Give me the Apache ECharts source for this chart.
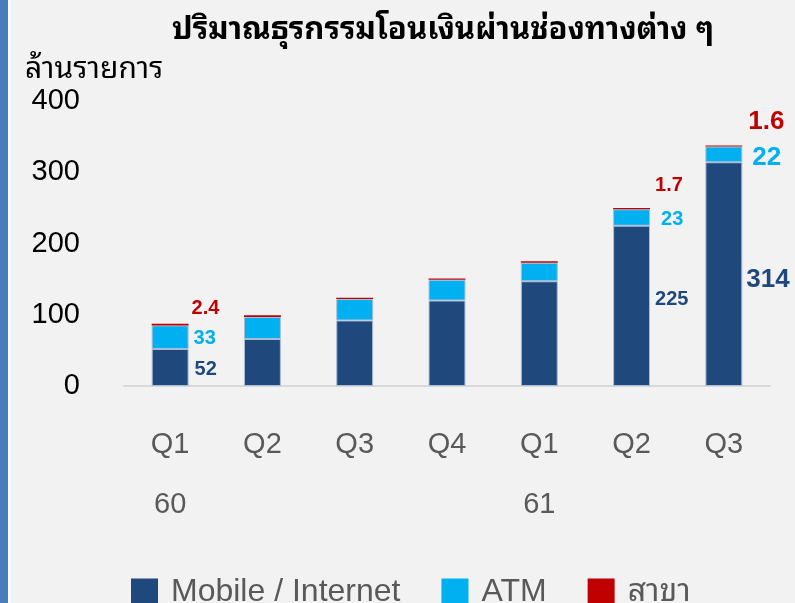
<!DOCTYPE html>
<html>
<head>
<meta charset="utf-8">
<title>ปริมาณธุรกรรมโอนเงินผ่านช่องทางต่าง ๆ</title>
<script src="https://cdn.jsdelivr.net/npm/echarts@6/dist/echarts.min.js"></script>
<style>
    html, body { margin: 0; padding: 0; background: #f2f2f2; }
    #chart { width: 795px; height: 603px; }
</style>
</head>
<body>
<div id="chart"></div>
<script>
// data
let quarters = ['Q1', 'Q2', 'Q3', 'Q4', 'Q1', 'Q2', 'Q3'];
let years = ['60', '', '', '', '61', '', ''];
let mobileValues = [52, 66, 92, 120, 147, 225, 314];
let atmValues = [33, 31, 30, 29, 26, 23, 22];
let branchValues = [2.4, 2.2, 2, 2, 2, 1.7, 1.6];
let yTicks = [0, 100, 200, 300, 400];

let thaiFont = "'Noto Sans Thai Looped', Loma, Garuda, Tahoma, 'Noto Sans Thai', 'DejaVu Sans', sans-serif";
let numFont = "'Liberation Sans', Arial, 'Noto Sans Thai Looped', Loma, Garuda, 'Noto Sans Thai', sans-serif";

// value labels only on some bars: index -> [fontSize, distance, dy]
let mobileLabels = {0: [20, 6, 2], 5: [20, 5, -6], 6: [26, 4, 6]};
let atmLabels = {0: [20, 5, 1], 5: [20, 11, 2], 6: [26, 10, 3]};
let branchLabels = {0: [20, 3, -16], 5: [20, 5, -23], 6: [26, 6, -24]};

function buildData(values, labels, color) {
    return values.map(function (v, i) {
        let item = {value: v};
        if (labels[i]) {
            item.label = {
                show: true,
                position: 'right',
                distance: labels[i][1],
                offset: [0, labels[i][2]],
                fontSize: labels[i][0],
                fontWeight: 'bold',
                fontFamily: numFont,
                color: color
            };
        }
        return item;
    });
}

let myChart = echarts.init(document.getElementById('chart'));

let barBorder = {borderColor: '#a9bdd6', borderWidth: 1};

let option = {
    backgroundColor: '#f2f2f2',
    animation: false,
    title: [{
        text: 'ปริมาณธุรกรรมโอนเงินผ่านช่องทางต่าง ๆ',
        left: 438,
        top: 10,
        textAlign: 'center',
        textStyle: {fontSize: 31, fontWeight: 'bold', color: '#000', fontFamily: thaiFont}
    }, {
        text: 'ล้านรายการ',
        left: 20,
        top: 50,
        textStyle: {fontSize: 30, fontWeight: 'normal', color: '#000', fontFamily: thaiFont}
    }],
    graphic: [
        {type: 'rect', left: 0, top: 0, shape: {width: 8, height: 603}, style: {fill: '#4a7ebb'}, silent: true},
        {type: 'rect', left: 8, top: 0, shape: {width: 2, height: 603}, style: {fill: '#ffffff'}, silent: true}
    ],
    legend: {
        left: 131,
        top: 576,
        padding: 0,
        itemWidth: 27,
        itemHeight: 27,
        itemGap: 41,
        icon: 'rect',
        itemStyle: {borderWidth: 0},
        textStyle: {fontSize: 32, lineHeight: 27, color: '#595959', fontFamily: numFont, padding: [0, 0, 0, 8]},
        data: ['Mobile / Internet', 'ATM', 'สาขา']
    },
    grid: {left: 124, right: 25, top: 101, bottom: 217},
    xAxis: {
        type: 'category',
        data: quarters,
        axisLine: {lineStyle: {color: '#d9d9d9', width: 2}},
        axisTick: {show: false},
        axisLabel: {
            margin: 29,
            fontSize: 29,
            lineHeight: 60,
            color: '#595959',
            fontFamily: numFont,
            formatter: function (v, i) {
                return years[i] ? v + '\n' + years[i] : v;
            }
        }
    },
    yAxis: {
        type: 'value',
        min: yTicks[0],
        max: yTicks[yTicks.length - 1],
        interval: 100,
        splitLine: {show: false},
        axisLine: {show: false},
        axisLabel: {margin: 44, fontSize: 29, color: '#000', fontFamily: numFont}
    },
    series: [{
        name: 'Mobile / Internet',
        type: 'bar',
        stack: 'total',
        barWidth: '40%',
        itemStyle: Object.assign({color: '#1f497d'}, barBorder),
        data: buildData(mobileValues, mobileLabels, '#1f497d')
    }, {
        name: 'ATM',
        type: 'bar',
        stack: 'total',
        itemStyle: Object.assign({color: '#00b0f0'}, barBorder),
        data: buildData(atmValues, atmLabels, '#00b0f0')
    }, {
        name: 'สาขา',
        type: 'bar',
        stack: 'total',
        itemStyle: {color: '#c00000'},
        data: buildData(branchValues, branchLabels, '#c00000')
    }]
};

myChart.setOption(option);
</script>
</body>
</html>
